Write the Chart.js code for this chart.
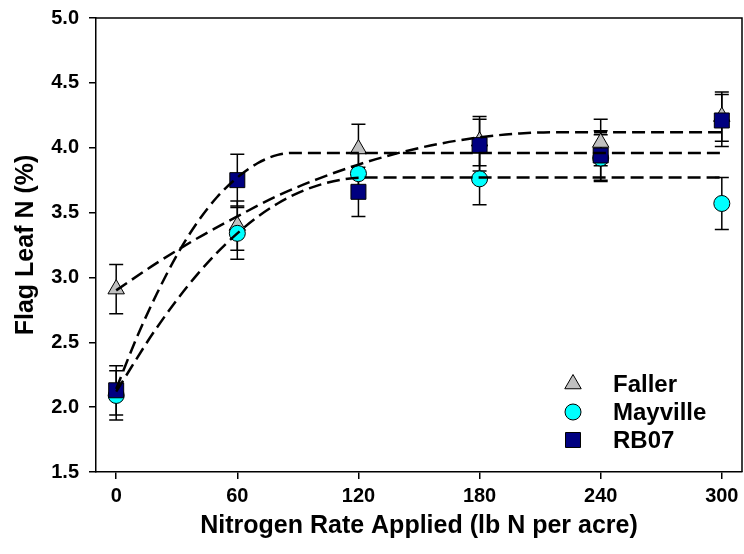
<!DOCTYPE html>
<html>
<head>
<meta charset="utf-8">
<script src="https://cdn.jsdelivr.net/npm/chart.js@4.4.0/dist/chart.umd.min.js"></script>
<style>
  html, body { margin: 0; padding: 0; background: #fff; }
  #chart { display: block; }
</style>
</head>
<body>
<canvas id="chart" width="744" height="554"></canvas>
<script>
// measured means and error bars
const rates = [0, 60, 120, 180, 240, 300];
const faller = [2.91, 3.40, 3.99, 4.05, 4.04, 4.24];
const fallerErr = [0.19, 0.19, 0.19, 0.19, 0.18, 0.19];
const mayville = [2.09, 3.34, 3.80, 3.76, 3.92, 3.57];
const mayvilleErr = [0.19, 0.20, 0.16, 0.20, 0.18, 0.20];
const rb07 = [2.13, 3.75, 3.66, 4.02, 3.94, 4.21];
const rb07Err = [0.19, 0.20, 0.19, 0.20, 0.19, 0.20];

// fitted response curves
const fallerFitX = [0, 20, 40, 60, 80, 100, 120, 140, 160, 180, 200, 220, 300];
const fallerFit = [2.90, 3.11, 3.30, 3.47, 3.63, 3.76, 3.87, 3.96, 4.03, 4.08, 4.11, 4.12, 4.12];
const mayvilleFitX = [0, 20, 40, 60, 80, 100, 123, 300];
const mayvilleFit = [2.12, 2.61, 3.02, 3.34, 3.57, 3.71, 3.77, 3.77];
const rb07FitX = [0, 10, 20, 30, 40, 50, 60, 70, 80, 88, 300];
const rb07Fit = [2.14, 2.53, 2.87, 3.17, 3.42, 3.62, 3.77, 3.88, 3.945, 3.96, 3.96];

const xTicks = [0, 60, 120, 180, 240, 300];
const yTicks = [1.5, 2.0, 2.5, 3.0, 3.5, 4.0, 4.5, 5.0];

const FONT = "'Liberation Sans', Arial, Helvetica, sans-serif";

function pts(xs, ys) {
  return xs.map((x, i) => ({ x: x, y: ys[i] }));
}

const series = [
  { label: "Faller", data: faller, err: fallerErr, color: "#c0c0c0", style: "triangle", radius: 9.5 },
  { label: "Mayville", data: mayville, err: mayvilleErr, color: "#00ffff", style: "circle", radius: 8 },
  { label: "RB07", data: rb07, err: rb07Err, color: "#000080", style: "rect", radius: 10.6 }
];

function fitLine(xs, ys) {
  return {
    type: "line",
    data: pts(xs, ys),
    borderColor: "#000",
    borderWidth: 2.5,
    borderDash: [13, 6],
    pointRadius: 0,
    cubicInterpolationMode: "monotone",
    fill: false,
    order: 0
  };
}

const datasets = [];
series.forEach((s, i) => {
  datasets.push({
    type: "scatter",
    label: s.label,
    data: pts(rates, s.data),
    backgroundColor: s.color,
    borderColor: "#000",
    borderWidth: 1,
    pointStyle: s.style,
    pointRadius: s.radius,
    pointHoverRadius: s.radius,
    order: 3 - i
  });
});
datasets.push(fitLine(fallerFitX, fallerFit));
datasets.push(fitLine(mayvilleFitX, mayvilleFit));
datasets.push(fitLine(rb07FitX, rb07Fit));

// no extra room for overhanging tick labels
function noPadding(s) {
  s.paddingLeft = s.paddingRight = s.paddingTop = s.paddingBottom = 0;
}

// error bars under the markers
const errorBars = {
  id: "errorBars",
  beforeDatasetsDraw(chart) {
    const ctx = chart.ctx;
    const xs = chart.scales.x, ys = chart.scales.y;
    ctx.save();
    ctx.strokeStyle = "#000";
    ctx.lineWidth = 1.5;
    series.forEach(s => {
      rates.forEach((r, i) => {
        const px = xs.getPixelForValue(r);
        const top = ys.getPixelForValue(s.data[i] + s.err[i]);
        const bot = ys.getPixelForValue(s.data[i] - s.err[i]);
        ctx.beginPath();
        ctx.moveTo(px, top); ctx.lineTo(px, bot);
        ctx.moveTo(px - 7, top); ctx.lineTo(px + 7, top);
        ctx.moveTo(px - 7, bot); ctx.lineTo(px + 7, bot);
        ctx.stroke();
      });
    });
    ctx.restore();
  }
};

// closing top and right sides of the frame
const frame = {
  id: "frame",
  afterDraw(chart) {
    const a = chart.chartArea;
    const ctx = chart.ctx;
    ctx.save();
    ctx.strokeStyle = "#000";
    ctx.lineWidth = 1.5;
    ctx.beginPath();
    ctx.moveTo(a.left, a.top);
    ctx.lineTo(a.right, a.top);
    ctx.lineTo(a.right, a.bottom);
    ctx.stroke();
    ctx.restore();
  }
};

// legend inside the plot, lower right
const innerLegend = {
  id: "innerLegend",
  afterDraw(chart) {
    const ctx = chart.ctx;
    ctx.save();
    ctx.font = "bold 24px " + FONT;
    ctx.textBaseline = "middle";
    series.forEach((s, i) => {
      const y = 384 + i * 28;
      ctx.fillStyle = s.color;
      ctx.strokeStyle = "#000";
      ctx.lineWidth = 1;
      ctx.beginPath();
      if (s.style === "circle") {
        ctx.arc(573, y, s.radius, 0, Math.PI * 2);
      } else if (s.style === "rect") {
        const h = s.radius * Math.SQRT1_2;
        ctx.rect(573 - h, y - h, 2 * h, 2 * h);
      } else {
        const r = s.radius;
        ctx.moveTo(573, y - r);
        ctx.lineTo(573 + r * 0.866, y + r * 0.5);
        ctx.lineTo(573 - r * 0.866, y + r * 0.5);
        ctx.closePath();
      }
      ctx.fill();
      ctx.stroke();
      ctx.fillStyle = "#000";
      ctx.fillText(s.label, 613, y + 1);
    });
    ctx.restore();
  }
};

new Chart(document.getElementById("chart"), {
  data: { datasets: datasets },
  options: {
    responsive: false,
    animation: false,
    devicePixelRatio: 1,
    layout: { autoPadding: false, padding: { top: 18, right: 2, left: 0, bottom: 0 } },
    plugins: {
      legend: { display: false },
      tooltip: { enabled: false }
    },
    scales: {
      x: {
        type: "linear",
        min: -10,
        max: 310,
        afterBuildTicks: s => { s.ticks = xTicks.map(v => ({ value: v })); },
        afterFit: s => { s.height = 82; noPadding(s); },
        grid: { drawOnChartArea: false, tickLength: 7, color: "#000", lineWidth: 1.5 },
        border: { color: "#000", width: 1.5 },
        ticks: {
          color: "#000",
          padding: 5,
          maxRotation: 0,
          font: { family: FONT, size: 20, weight: "bold" }
        },
        title: {
          display: true,
          text: "Nitrogen Rate Applied (lb N per acre)",
          color: "#000",
          font: { family: FONT, size: 25, weight: "bold" },
          padding: { top: 0, bottom: 13 }
        }
      },
      y: {
        type: "linear",
        min: 1.5,
        max: 5.0,
        afterBuildTicks: s => { s.ticks = yTicks.map(v => ({ value: v })); },
        afterFit: s => { s.width = 96; noPadding(s); },
        grid: { drawOnChartArea: false, tickLength: 7, color: "#000", lineWidth: 1.5 },
        border: { color: "#000", width: 1.5 },
        ticks: {
          color: "#000",
          padding: 10,
          callback: v => v.toFixed(1),
          font: { family: FONT, size: 20, weight: "bold" }
        },
        title: {
          display: true,
          text: "Flag Leaf N (%)",
          color: "#000",
          font: { family: FONT, size: 25, weight: "bold" },
          padding: { top: 11, bottom: 0 }
        }
      }
    }
  },
  plugins: [errorBars, frame, innerLegend]
});
</script>
</body>
</html>
